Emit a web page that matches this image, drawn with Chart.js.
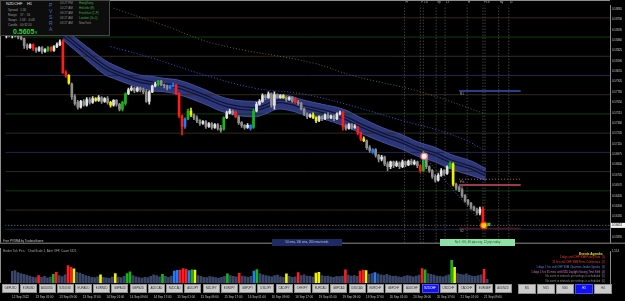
<!DOCTYPE html>
<html>
<head>
<meta charset="utf-8">
<title>NZDCHF,H1</title>
<script src="https://cdn.jsdelivr.net/npm/chart.js@4.4.1/dist/chart.umd.min.js"></script>
<style>
  html, body { margin: 0; padding: 0; background: #000; }
  body { position: relative; width: 625px; height: 301px; overflow: hidden;
         font-family: 'Liberation Sans', Arial, sans-serif; }
  canvas { position: absolute; left: 0; z-index: 1; }
  #priceChart { top: 0; }
  #volumeChart { top: 248px; }
  .t { position: absolute; white-space: nowrap; line-height: 1; z-index: 3; }
  #infoBox { position: absolute; left: 0; top: 0; width: 108px; height: 34px;
             background: #0d0d0d; border: 1px solid #474747; z-index: 2; }
  .btn { position: absolute; top: 284px; height: 9px; box-sizing: border-box;
         background: #cbcbcb; border: 1px solid #8f8f8f; color: #303030;
         font-size: 2.8px; line-height: 7px; text-align: center; z-index: 3; }
  .btn.sel { background: #1212ee; color: #fff; border-color: #4a4aff; }
</style>
</head>
<body>
<div id="infoBox"></div>
<canvas id="priceChart" width="625" height="248"></canvas>
<canvas id="volumeChart" width="625" height="53"></canvas>

<!-- info panel -->
<div class="t" style="left:6px;top:2px;font-size:4px;color:#e6e6e6;">NZDCHF&nbsp;&nbsp;&nbsp;&nbsp;H1</div>
<div class="t" style="left:8px;top:9px;font-size:3px;color:#9a9a9a;">Spread&nbsp;&nbsp; 1.30</div>
<div class="t" style="left:8px;top:14px;font-size:3px;color:#9a9a9a;">Range&nbsp;&nbsp;&nbsp; 57 : &nbsp;56</div>
<div class="t" style="left:8px;top:19px;font-size:3px;color:#9a9a9a;">Swaps&nbsp;&nbsp; 2.08 : -6.08</div>
<div class="t" style="left:8px;top:24px;font-size:3px;color:#9a9a9a;">Candle&nbsp;&nbsp; 00:32:20</div>
<div class="t" style="left:13px;top:28px;font-size:7px;font-weight:bold;color:#2fcf3a;">0.5605</div>
<div class="t" style="left:35px;top:31px;font-size:4px;color:#2fcf3a;">8</div>
<div class="t" style="left:49px;top:3px;font-size:5px;color:#4d73b3;">P</div>
<div class="t" style="left:49px;top:9px;font-size:5px;color:#4d73b3;">V</div>
<div class="t" style="left:49px;top:15px;font-size:5px;color:#4d73b3;">S</div>
<div class="t" style="left:49px;top:21px;font-size:5px;color:#4d73b3;">R</div>
<div class="t" style="left:49px;top:27px;font-size:5px;color:#4d73b3;">A</div>
<div class="t" style="left:60px;top:2px;font-size:3px;color:#8e8e8e;">03:27 PM</div>
<div class="t" style="left:60px;top:7px;font-size:3px;color:#8e8e8e;">10:27 AM</div>
<div class="t" style="left:60px;top:12px;font-size:3px;color:#8e8e8e;">09:27 AM</div>
<div class="t" style="left:60px;top:17px;font-size:3px;color:#8e8e8e;">08:27 AM</div>
<div class="t" style="left:60px;top:22px;font-size:3px;color:#8e8e8e;">03:27 AM</div>
<div class="t" style="left:79px;top:2px;font-size:3px;color:#3fae3f;">HongKong</div>
<div class="t" style="left:79px;top:7px;font-size:3px;color:#3fae3f;">Helsinki (E)</div>
<div class="t" style="left:79px;top:12px;font-size:3px;color:#3fae3f;">Frankfurt (C,P)</div>
<div class="t" style="left:79px;top:17px;font-size:3px;color:#3fae3f;">London (G+1)</div>
<div class="t" style="left:79px;top:22px;font-size:3px;color:#8e8e8e;">NewYork</div>

<!-- bottom of price window -->
<div class="t" style="left:3px;top:239.5px;font-size:3px;color:#c4c4c4;">Free PVSRA by Traderathome</div>
<div class="t" style="left:272px;top:239px;width:70px;height:7px;background:#1d2a63;color:#b9c3e6;font-size:2.8px;line-height:7px;text-align:center;">50 ema, 100 ema, 200 ema trends</div>
<div class="t" style="left:440px;top:239px;width:75px;height:7px;background:#8ee2a6;color:#1f5a2c;font-size:2.8px;line-height:7px;text-align:center;">No 1: 6%, 48 pips avg, 12 pips today</div>

<!-- volume window -->
<div class="t" style="left:3px;top:249.5px;font-size:3px;color:#a4a4a4;">Broker Tick Pics:&nbsp;&nbsp; ChartScale 1, Alert OFF, Count 3421</div>
<div class="t" style="right:22px;top:252.5px;font-size:3.2px;font-weight:bold;color:#e6e600;">Events Agenda:</div>
<div class="t" style="right:20px;top:256.5px;font-size:2.7px;color:#ff3a3a;">1 days until CHF SNB Policy Rate&nbsp; (1)</div>
<div class="t" style="right:20px;top:261.5px;font-size:2.7px;color:#ff3a3a;">31 hrs until CHF SNB Press Conference&nbsp; (2)</div>
<div class="t" style="right:20px;top:266.5px;font-size:2.7px;color:#5b86ea;">1 days 1 hrs until CHF SNB Chairman Jordan Speaks&nbsp; (3)</div>
<div class="t" style="right:20px;top:271.5px;font-size:2.7px;color:#e06fd6;">1 days 1 hrs 35 mins until NZD Daylight Saving Time Shift&nbsp; (4)</div>
<div class="t" style="right:20px;top:275.5px;font-size:2.7px;color:#8a8a8a;">No event in intervals per settings is scheduled&nbsp; (5)</div>
<div class="t" style="right:20px;top:280.5px;font-size:2.7px;color:#8a8a8a;">No event in intervals per settings is scheduled&nbsp; (6)</div>

<script>
// ---- H1 candles, 12 Sep 2022 17:00 .. 21 Sep 10:00 ----
const opens = [
  0.58513,0.58538,0.58526,0.58551,0.58513,0.58501,0.58476,0.58388,0.58363,0.58401,
  0.58351,0.58326,0.58363,0.58313,0.58326,0.58363,0.58326,0.58376,0.58401,0.58438,
  0.58038,0.58001,0.57888,0.57726,0.57651,0.57588,0.57663,0.57613,0.57688,0.57651,
  0.57701,0.57676,0.57713,0.57663,0.57701,0.57651,0.57613,0.57676,0.57626,0.57563,
  0.57638,0.57763,0.57813,0.57838,0.57801,0.57838,0.57813,0.57788,0.57663,0.57788,
  0.57863,0.57888,0.57926,0.57876,0.57863,0.57838,0.57863,0.57876,0.57763,0.57476,
  0.57338,0.57438,0.57538,0.57488,0.57451,0.57413,0.57376,0.57401,0.57338,0.57376,
  0.57326,0.57363,0.57313,0.57301,0.57451,0.57513,0.57538,0.57526,0.57463,0.57388,
  0.57351,0.57326,0.57313,0.57326,0.57538,0.57626,0.57663,0.57738,0.57713,0.57763,
  0.57613,0.57751,0.57713,0.57738,0.57713,0.57688,0.57713,0.57701,0.57651,0.57638,
  0.57563,0.57501,0.57463,0.57488,0.57451,0.57413,0.57463,0.57438,0.57488,0.57451,
  0.57476,0.57438,0.57501,0.57513,0.57338,0.57313,0.57363,0.57326,0.57326,0.57251,
  0.57176,0.57151,0.57063,0.57001,0.57038,0.56963,0.56913,0.56938,0.56851,0.56813,
  0.56876,0.56826,0.56863,0.56813,0.56876,0.56838,0.56888,0.56851,0.56876,0.56826,
  0.56763,0.56976,0.56813,0.56763,0.56688,0.56638,0.56701,0.56763,0.56726,0.56801,
  0.56851,0.56588,0.56538,0.56513,0.56438,0.56376,0.56338,0.56288,0.56251,0.56213,
  0.56263,0.56038
];
const highs = [
  0.58563,0.58576,0.58563,0.58576,0.58551,0.58538,0.58488,0.58413,0.58413,0.58413,
  0.58363,0.58376,0.58376,0.58351,0.58376,0.58376,0.58388,0.58426,0.58463,0.58463,
  0.58063,0.58013,0.57901,0.57751,0.57676,0.57676,0.57688,0.57713,0.57713,0.57726,
  0.57713,0.57738,0.57726,0.57713,0.57726,0.57663,0.57688,0.57688,0.57638,0.57663,
  0.57776,0.57838,0.57863,0.57851,0.57851,0.57851,0.57838,0.57813,0.57801,0.57876,
  0.57913,0.57938,0.57938,0.57888,0.57876,0.57876,0.57901,0.57888,0.57776,0.57488,
  0.57451,0.57563,0.57576,0.57501,0.57476,0.57426,0.57413,0.57413,0.57388,0.57388,
  0.57376,0.57376,0.57351,0.57463,0.57538,0.57563,0.57551,0.57538,0.57476,0.57401,
  0.57363,0.57376,0.57363,0.57563,0.57651,0.57688,0.57763,0.57751,0.57788,0.57776,
  0.57788,0.57763,0.57751,0.57751,0.57726,0.57726,0.57726,0.57713,0.57676,0.57651,
  0.57576,0.57513,0.57501,0.57513,0.57463,0.57476,0.57476,0.57501,0.57513,0.57488,
  0.57488,0.57513,0.57538,0.57538,0.57363,0.57376,0.57376,0.57363,0.57338,0.57263,
  0.57201,0.57163,0.57088,0.57051,0.57051,0.56976,0.56963,0.56951,0.56876,0.56888,
  0.56888,0.56888,0.56876,0.56901,0.56888,0.56901,0.56913,0.56901,0.56888,0.56838,
  0.57013,0.56988,0.56826,0.56776,0.56713,0.56726,0.56788,0.56776,0.56826,0.56876,
  0.56863,0.56601,0.56563,0.56526,0.56451,0.56388,0.56351,0.56301,0.56276,0.56288,
  0.56288,0.56063
];
const lows = [
  0.58488,0.58501,0.58488,0.58501,0.58476,0.58463,0.58351,0.58338,0.58351,0.58326,
  0.58301,0.58313,0.58288,0.58301,0.58313,0.58313,0.58313,0.58363,0.58388,0.58026,
  0.57976,0.57888,0.57688,0.57613,0.57563,0.57576,0.57601,0.57601,0.57626,0.57638,
  0.57663,0.57663,0.57638,0.57651,0.57626,0.57588,0.57601,0.57601,0.57538,0.57538,
  0.57613,0.57751,0.57801,0.57776,0.57788,0.57788,0.57763,0.57651,0.57626,0.57776,
  0.57851,0.57863,0.57863,0.57838,0.57813,0.57826,0.57851,0.57751,0.57451,0.57226,
  0.57313,0.57426,0.57463,0.57426,0.57388,0.57351,0.57363,0.57313,0.57326,0.57301,
  0.57313,0.57288,0.57263,0.57288,0.57438,0.57501,0.57488,0.57451,0.57363,0.57326,
  0.57301,0.57313,0.57288,0.57313,0.57526,0.57613,0.57651,0.57688,0.57701,0.57588,
  0.57563,0.57701,0.57701,0.57701,0.57663,0.57676,0.57651,0.57638,0.57613,0.57551,
  0.57476,0.57438,0.57451,0.57438,0.57388,0.57401,0.57413,0.57426,0.57438,0.57438,
  0.57413,0.57426,0.57488,0.57288,0.57288,0.57301,0.57301,0.57313,0.57226,0.57151,
  0.57138,0.57038,0.57001,0.56988,0.56938,0.56876,0.56888,0.56826,0.56763,0.56788,
  0.56801,0.56813,0.56788,0.56801,0.56813,0.56826,0.56838,0.56838,0.56801,0.56738,
  0.56751,0.56788,0.56738,0.56663,0.56613,0.56626,0.56688,0.56701,0.56713,0.56788,
  0.56563,0.56513,0.56488,0.56413,0.56351,0.56313,0.56263,0.56238,0.56188,0.56188,
  0.56013,0.56013
];
const closes = [
  0.58538,0.58526,0.58551,0.58513,0.58501,0.58476,0.58388,0.58363,0.58401,0.58351,
  0.58326,0.58363,0.58313,0.58338,0.58363,0.58326,0.58376,0.58401,0.58438,0.58038,
  0.58001,0.57901,0.57726,0.57638,0.57588,0.57663,0.57613,0.57688,0.57651,0.57701,
  0.57676,0.57713,0.57663,0.57701,0.57651,0.57613,0.57676,0.57626,0.57563,0.57651,
  0.57763,0.57813,0.57838,0.57801,0.57838,0.57813,0.57788,0.57663,0.57788,0.57863,
  0.57888,0.57926,0.57876,0.57863,0.57838,0.57863,0.57876,0.57763,0.57476,0.57338,
  0.57438,0.57538,0.57488,0.57451,0.57413,0.57376,0.57401,0.57338,0.57376,0.57326,
  0.57363,0.57313,0.57288,0.57451,0.57513,0.57538,0.57501,0.57463,0.57388,0.57351,
  0.57326,0.57351,0.57351,0.57538,0.57626,0.57663,0.57738,0.57713,0.57763,0.57613,
  0.57751,0.57713,0.57738,0.57713,0.57688,0.57713,0.57663,0.57651,0.57638,0.57563,
  0.57501,0.57463,0.57488,0.57451,0.57413,0.57463,0.57438,0.57488,0.57451,0.57476,
  0.57438,0.57501,0.57513,0.57338,0.57313,0.57363,0.57326,0.57338,0.57251,0.57176,
  0.57151,0.57063,0.57026,0.57038,0.56963,0.56913,0.56938,0.56851,0.56813,0.56876,
  0.56826,0.56863,0.56813,0.56876,0.56838,0.56888,0.56851,0.56876,0.56826,0.56763,
  0.56988,0.56813,0.56763,0.56688,0.56638,0.56701,0.56763,0.56726,0.56813,0.56863,
  0.56588,0.56538,0.56513,0.56438,0.56376,0.56338,0.56288,0.56251,0.56213,0.56263,
  0.56038,0.56051
];
// PVSRA class per bar: n normal, r bear climax, g bull climax, b bull rising, y bear rising
const barClass = ('nnnnnnnnnr' + 'nnnngrnnnr' + 'rynnnnnnnn' + 'ynnnnynnng' + 'gnnnnnnnnn' +
                  'ngnnnbbrrr' + 'bgynnnnnnn' + 'nnngnnnrnn' + 'nnbgnnnnnn' + 'nnnynnnrnn' +
                  'nnnyynnnnn' + 'nnnrnnnnrr' + 'ynnbnnnnnn' + 'nnnnnnnnnr' + 'gnnnnnnnng' +
                  'ynnnnnnnnn' + 'rn').split('');
// tick volume
const volumes = [
  560,600,500,460,420,380,330,290,260,360, 280,320,250,290,420,520,360,310,390,840,
  760,680,520,480,420,360,320,280,260,300, 400,270,250,230,290,460,290,260,320,450,
  540,360,300,260,240,280,260,320,400,360, 300,420,320,280,340,580,610,630,700,660,
  600,640,620,360,320,280,260,310,290,260, 240,270,320,440,360,320,300,470,340,310,
  280,320,580,650,460,400,360,330,300,360, 380,300,280,440,320,280,300,500,360,390,
  340,320,290,480,520,360,320,340,300,280, 320,310,340,640,380,340,360,320,580,620,
  600,420,460,500,440,400,370,420,360,320, 340,300,280,320,360,340,300,330,380,700,
  640,460,420,380,340,320,300,350,390,1100, 760,460,420,390,440,370,340,320,360,400,
  660,180
];

// axis labels
const timeTicks = [0,8,16,24,32,40,48,56,64,72,80,88,96,104,112,120,128,136,144,152,160];
const timeLabels = ['12 Sep 2022','13 Sep 01:00','13 Sep 09:00','13 Sep 17:00','14 Sep 01:00',
  '14 Sep 09:00','14 Sep 17:00','15 Sep 01:00','15 Sep 09:00','15 Sep 17:00','16 Sep 01:00',
  '16 Sep 09:00','16 Sep 17:00','19 Sep 01:00','19 Sep 09:00','19 Sep 17:00','20 Sep 01:00',
  '20 Sep 09:00','20 Sep 17:00','21 Sep 01:00','21 Sep 09:00'];
const priceTicks = [0.58865,0.58730,0.58595,0.58460,0.58325,0.58190,0.58055,0.57920,0.57785,
  0.57650,0.57515,0.57380,0.57245,0.57110,0.56975,0.56840,0.56705,0.56570,0.56435,0.56300,
  0.56165,0.56030,0.55895];
const volumeTicks = [1514];

// round-number levels
const roundLevels = [0.5875,0.5850,0.5825,0.5800,0.5775,0.5750,0.5725,0.5700,0.5675,0.5650,0.5625,0.5600];

// moving averages (bar index, price)
const emaIdx   = [19,27,33,36,44,49,53,58,66,74,83,87,91,96,99,106,113,119,126,133,138,144,149,156,161];
const emaUpper = [0.58613,0.58376,0.58201,0.58138,0.58013,0.57988,0.57963,0.57938,0.57826,0.57701,
  0.57663,0.57688,0.57751,0.57726,0.57688,0.57626,0.57563,0.57451,0.57326,0.57226,0.57138,0.57063,
  0.56976,0.56888,0.56788];
const emaLower = [0.58463,0.58201,0.58013,0.57963,0.57851,0.57801,0.57788,0.57751,0.57638,0.57513,
  0.57463,0.57501,0.57563,0.57538,0.57501,0.57438,0.57351,0.57251,0.57138,0.57038,0.56951,0.56876,
  0.56788,0.56701,0.56638];
const ema50 = [0.58538,0.58288,0.58113,0.58051,0.57938,0.57901,0.57876,0.57851,0.57738,0.57613,
  0.57563,0.57601,0.57663,0.57638,0.57601,0.57538,0.57463,0.57351,0.57238,0.57138,0.57051,0.56976,
  0.56888,0.56801,0.56713];
const ema100Idx = [35,49,66,83,99,113,133,145,154,160];
const ema100 = [0.58376,0.58226,0.58013,0.57838,0.57763,0.57638,0.57413,0.57288,0.57163,0.57038];
const ema200Idx = [36,53,70,103,116,139,160];
const ema200 = [0.58876,0.58651,0.58413,0.58163,0.58001,0.57788,0.57513];

// session opens and daily levels
const sessionX = [133.7,139,140,144.3,147.3,154.7,160,160.7,165.3,168.7];
const sessionNames = ['H','F','Lo','Ny','Lc','H','F','Lo','Ny','Lc'];
const pivotLevels = [0.57800,0.56651,0.56576,0.56013];
const pivotNames = ['R1','Pvt','S1','S2'];
const pivotFrom = 152, pivotTo = 172.7;

// signals
const signalIdx = [140.3,160.3,162];
const signalPrice = [0.5695,0.56051,0.56063];

// pair / period buttons
const pairButtons = ['GBPUSD','EURUSD','AUDUSD','NZDUSD','EURAUD','EURNZD','GBPAUD','GBPNZD','AUDCAD',
  'NZDCAD','AUDJPY','NZDJPY','EURJPY','GBPJPY','USDJPY','CADJPY','CHFJPY','EURCAD','GBPCAD','USDCAD',
  'EURCHF','GBPCHF','AUDCHF','NZDCHF','USDCHF','CADCHF','EURGBP','AUDNZD'];
const periodButtons = ['M5','M15','M30','H1','H4'];

// ---- drawing ----
const priceMin = 0.558255, priceMax = 0.58913;
const xMin = -1 / 3, xMax = 608 / 3;
const FONT = "'Liberation Sans', Arial, sans-serif";
const frameColor = '#8c8c8c';
const classColor = { r: '#ff1c1c', g: '#18b418', b: '#1f7dff', y: '#f0f000' };

function candleColor(i) {
  const c = barClass[i];
  if (c !== 'n') return classColor[c];
  return closes[i] >= opens[i] ? '#e2e2e2' : '#8e8e8e';
}
function volumeColor(i) {
  const c = barClass[i];
  return c === 'n' ? '#3a4669' : classColor[c];
}
function levelColor(lv) {
  const r = Math.round(lv * 10000) % 100;
  if (r === 0) return '#1c2650';
  if (r === 50) return '#123b12';
  return '#35291c';
}
function hLine(y, color, width, dash, order) {
  return { type: 'line', data: [{ x: xMin, y: y }, { x: xMax, y: y }], borderColor: color,
           borderWidth: width, borderDash: dash, pointRadius: 0, order: order };
}
function curve(xs, ys, extra) {
  return Object.assign({ type: 'line', data: xs.map((x, k) => ({ x: x, y: ys[k] })),
                         pointRadius: 0, fill: false, tension: 0.4 }, extra);
}

const datasets = [];
// markers and trendline on top
datasets.push({ type: 'line', data: signalIdx.map((x, k) => ({ x: x, y: signalPrice[k] })), showLine: false,
  pointStyle: ['circle', 'circle', 'rect'], pointRadius: [3.2, 3.2, 1.3],
  pointBackgroundColor: ['#fff0f0', '#ffd21a', '#2ecc2e'], pointBorderColor: ['#e0707c', '#ff2a00', '#2ecc2e'],
  pointBorderWidth: 1.3, order: 0 });
datasets.push({ type: 'line', data: [{ x: signalIdx[0], y: signalPrice[0] }, { x: signalIdx[1], y: signalPrice[1] }],
  borderColor: '#56678c', borderWidth: 1, borderDash: [1, 2], pointRadius: 0, order: 1 });
// candles
datasets.push({ type: 'bar', data: opens.map((o, i) => ({ x: i, y: [o, closes[i]] })),
  backgroundColor: opens.map((o, i) => candleColor(i)), barThickness: 2, minBarLength: 1, grouped: false, order: 5 });
datasets.push({ type: 'bar', data: opens.map((o, i) => ({ x: i, y: [lows[i], highs[i]] })),
  backgroundColor: opens.map((o, i) => candleColor(i)), barThickness: 1, grouped: false, order: 6 });
// daily levels
const pivotStyle = [['#2c3c8e', 2, []], ['#b2607e', 1, [1, 2]], ['#d04a6a', 1.5, []], ['#6e1a1a', 1, []]];
pivotLevels.forEach((lv, k) => {
  datasets.push({ type: 'line', data: [{ x: pivotFrom, y: lv }, { x: pivotTo, y: lv }], borderColor: pivotStyle[k][0],
    borderWidth: pivotStyle[k][1], borderDash: pivotStyle[k][2], pointRadius: 0, order: 8 });
});
// ema band (upper fills down to lower)
datasets.push(curve(emaIdx, ema50, { borderColor: '#2d3778', borderWidth: 1.4, order: 20 }));
datasets.push(curve(emaIdx, ema50, { borderColor: '#0f1436', borderWidth: 4, order: 21 }));
datasets.push(curve(emaIdx, emaUpper, { borderColor: '#4350a2', borderWidth: 1, fill: '+1', backgroundColor: '#2d3778', order: 22 }));
datasets.push(curve(emaIdx, emaLower, { borderColor: '#4350a2', borderWidth: 1, order: 22 }));
datasets.push(curve(ema100Idx, ema100, { borderColor: '#3a52e0', borderWidth: 1, borderDash: [1, 2], order: 30 }));
datasets.push(curve(ema200Idx, ema200, { borderColor: '#6c5a3c', borderWidth: 1, borderDash: [1, 2], order: 31 }));
// session verticals
datasets.push({ type: 'line', data: sessionX.flatMap(s => [{ x: s, y: priceMin }, { x: s, y: priceMax }, { x: s, y: null }]),
  borderColor: '#5c5c5c', borderWidth: 1, borderDash: [1, 2], pointRadius: 0, spanGaps: false, order: 40 });
// bid line and round levels
datasets.push(hLine(closes[closes.length - 1], '#808080', 1, [1, 2], 50));
roundLevels.forEach(lv => datasets.push(hLine(lv, levelColor(lv), 1, [], 60)));

const priceOverlay = {
  id: 'priceOverlay',
  afterDatasetsDraw(chart) {
    const { ctx, scales: { x, y } } = chart;
    ctx.save();
    ctx.font = '3px ' + FONT;
    ctx.textBaseline = 'top';
    ctx.fillStyle = '#b0b0b0';
    sessionX.forEach((s, k) => ctx.fillText(sessionNames[k], x.getPixelForValue(s) + 1, 1));
    ctx.fillStyle = '#a8a8a8';
    pivotLevels.forEach((lv, k) => ctx.fillText(pivotNames[k], x.getPixelForValue(pivotFrom) + 1, y.getPixelForValue(lv) + 1.5));
    ctx.restore();
  },
  afterDraw(chart) {
    const { ctx, chartArea: a, scales: { y } } = chart;
    ctx.save();
    ctx.strokeStyle = frameColor;
    ctx.lineWidth = 1;
    ctx.beginPath();
    ctx.moveTo(0.5, 0); ctx.lineTo(0.5, a.bottom);
    ctx.moveTo(0, 0.5); ctx.lineTo(a.right, 0.5);
    ctx.moveTo(0, a.bottom + 0.5); ctx.lineTo(625, a.bottom + 0.5);
    ctx.stroke();
    // current bid on the price scale
    const bid = closes[closes.length - 1];
    const py = y.getPixelForValue(bid);
    ctx.fillStyle = '#f4f4f4';
    ctx.fillRect(a.right + 1, py - 2.5, 14, 5);
    ctx.fillStyle = '#000';
    ctx.font = '2.8px ' + FONT;
    ctx.textBaseline = 'middle';
    ctx.fillText(bid.toFixed(5), a.right + 2, py);
    ctx.restore();
  }
};

new Chart(document.getElementById('priceChart'), {
  type: 'bar',
  data: { datasets: datasets },
  options: {
    responsive: false,
    animation: false,
    events: [],
    devicePixelRatio: 1,
    layout: { padding: { left: 1, right: 0, top: 0, bottom: 1 } },
    plugins: { legend: { display: false }, tooltip: { enabled: false }, filler: { drawTime: 'beforeDatasetsDraw' } },
    scales: {
      x: { type: 'linear', display: false, offset: false, min: xMin, max: xMax },
      y: {
        position: 'right', min: priceMin, max: priceMax,
        grid: { display: false, drawTicks: false },
        border: { display: true, color: frameColor },
        afterFit: s => { s.width = 15; },
        afterBuildTicks: s => { s.ticks = priceTicks.map(v => ({ value: v })); },
        ticks: { autoSkip: false, padding: 2, color: '#c6c6c6', font: { size: 2.8, family: FONT },
                 callback: v => Number(v).toFixed(5) }
      }
    }
  },
  plugins: [priceOverlay]
});

const volumeFrame = {
  id: 'volumeFrame',
  afterDraw(chart) {
    const { ctx, chartArea: a } = chart;
    ctx.save();
    ctx.strokeStyle = frameColor;
    ctx.beginPath();
    ctx.moveTo(0.5, 0); ctx.lineTo(0.5, a.bottom);
    ctx.stroke();
    ctx.restore();
  }
};

new Chart(document.getElementById('volumeChart'), {
  type: 'bar',
  data: {
    datasets: [{
      data: volumes.map((v, i) => ({ x: i, y: v })),
      backgroundColor: volumes.map((v, i) => volumeColor(i)),
      barThickness: 2
    }]
  },
  options: {
    responsive: false,
    animation: false,
    events: [],
    devicePixelRatio: 1,
    layout: { padding: { left: 1, right: 0, top: 2, bottom: 0 } },
    plugins: { legend: { display: false }, tooltip: { enabled: false } },
    scales: {
      x: {
        type: 'linear', offset: false, min: xMin, max: xMax,
        grid: { display: false, drawTicks: false }, border: { display: false },
        afterFit: s => { s.height = 18; },
        afterBuildTicks: s => { s.ticks = timeTicks.map(v => ({ value: v })); },
        ticks: { autoSkip: false, maxRotation: 0, minRotation: 0, align: 'start', padding: 12,
                 color: '#c6c6c6', font: { size: 3, family: FONT },
                 callback: (v, k) => timeLabels[k] }
      },
      y: {
        position: 'right', min: 0, max: 1514,
        grid: { display: false, drawTicks: false },
        border: { display: true, color: frameColor },
        afterFit: s => { s.width = 15; },
        afterBuildTicks: s => { s.ticks = volumeTicks.map(v => ({ value: v })); },
        ticks: { padding: 2, color: '#c6c6c6', font: { size: 2.8, family: FONT } }
      }
    }
  },
  plugins: [volumeFrame]
});

// buttons under the volume window
pairButtons.forEach((name, j) => {
  const b = document.createElement('div');
  b.className = 'btn' + (name === 'NZDCHF' ? ' sel' : '');
  b.style.left = (2 + j * 18.24).toFixed(1) + 'px';
  b.style.width = '17px';
  b.textContent = name;
  document.body.appendChild(b);
});
periodButtons.forEach((name, j) => {
  const b = document.createElement('div');
  b.className = 'btn' + (name === 'H1' ? ' sel' : '');
  b.style.left = (518 + j * 19) + 'px';
  b.style.width = '18px';
  b.style.height = '10px';
  b.textContent = name;
  document.body.appendChild(b);
});
</script>
</body>
</html>
